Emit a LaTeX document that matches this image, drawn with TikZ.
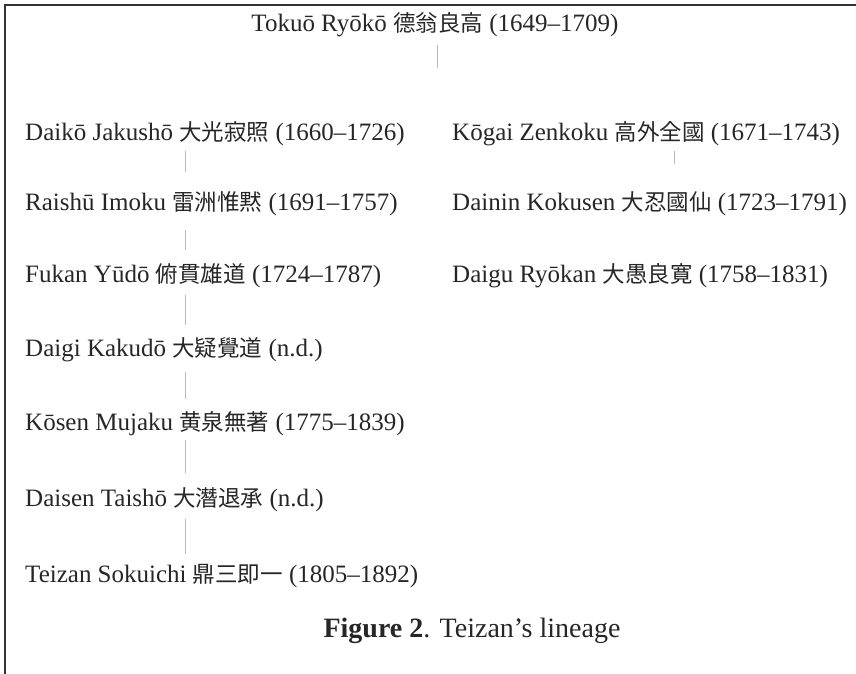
\documentclass[tikz,border=0pt]{standalone}
\usepackage{fontspec}
\setmainfont{Liberation Serif}
\newfontfamily\cjk{Noto Sans CJK JP}[Scale=0.9]
\begin{document}
\begin{tikzpicture}[x=1pt,y=-1pt,
  lin/.style={font=\fontsize{25}{29}\selectfont, inner sep=0pt, text height=17pt, text depth=5pt, anchor=base west, text=black!85},
  conn/.style={draw=gray!55, line width=1pt},
  frame/.style={draw=black!80, line width=2pt}]
\useasboundingbox (0,0) rectangle (856,674);
\draw[frame] (5,674) -- (5,5) -- (856,5);
\coordinate (L) at (185,0);
\coordinate (R) at (674,0);
\coordinate (T) at (437,68);
\node[lin, anchor=base] (tokuo) at (435,32) {Tokuō Ryōkō {\cjk 德翁良高} (1649–1709)};
\node[lin] (daiko)  at (25,140) {Daikō Jakushō {\cjk 大光寂照} (1660–1726)};
\node[lin] (raishu) at (25,210) {Raishū Imoku {\cjk 雷洲惟黙} (1691–1757)};
\node[lin] (fukan)  at (25,282) {Fukan Yūdō {\cjk 俯貫雄道} (1724–1787)};
\node[lin] (daigi)  at (25,356) {Daigi Kakudō {\cjk 大疑覺道} (n.d.)};
\node[lin] (kosen)  at (25,430) {Kōsen Mujaku {\cjk 黄泉無著} (1775–1839)};
\node[lin] (daisen) at (25,506) {Daisen Taishō {\cjk 大潛退承} (n.d.)};
\node[lin] (teizan) at (25,582) {Teizan Sokuichi {\cjk 鼎三即一} (1805–1892)};
\node[lin] (kogai)  at (452,140) {Kōgai Zenkoku {\cjk 高外全國} (1671–1743)};
\node[lin] (dainin) at (452,210) {Dainin Kokusen {\cjk 大忍國仙} (1723–1791)};
\node[lin] (daigu)  at (452,282) {Daigu Ryōkan {\cjk 大愚良寛} (1758–1831)};
\node[lin, anchor=base, font=\fontsize{28}{33}\selectfont] (cap) at (472,637) {\textbf{Figure 2}. Teizan’s lineage};
\draw[conn, shorten <=8pt] (tokuo.south -| T) -- (T);
\draw[conn, shorten <=6pt, shorten >=21pt] (daiko.south -| L) -- (raishu.north -| L);
\draw[conn, shorten <=15pt, shorten >=15pt] (raishu.south -| L) -- (fukan.north -| L);
\draw[conn, shorten <=8pt, shorten >=14pt] (fukan.south -| L) -- (daigi.north -| L);
\draw[conn, shorten <=11pt, shorten >=14pt] (daigi.south -| L) -- (kosen.north -| L);
\draw[conn, shorten <=5pt, shorten >=16pt] (kosen.south -| L) -- (daisen.north -| L);
\draw[conn, shorten <=8pt, shorten >=11pt] (daisen.south -| L) -- (teizan.north -| L);
\draw[conn, shorten <=6pt, shorten >=29pt] (kogai.south -| R) -- (dainin.north -| R);
\end{tikzpicture}
\end{document}
